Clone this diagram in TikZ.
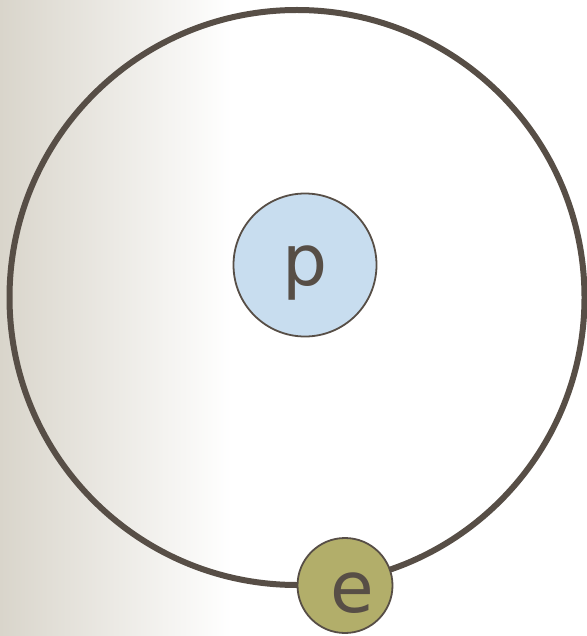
\documentclass[tikz,border=0pt]{standalone}
\usepackage{fontspec}
\setmainfont{DejaVu Sans}
\usepackage[dvipsnames, svgnames, x11names]{xcolor}
\definecolor{inkbrown}{HTML}{574E46}
\definecolor{protonblue}{HTML}{C8DDEF}
\definecolor{electronolive}{HTML}{B2AE6A}
\definecolor{sandgray}{HTML}{D9D5CB}
\usepackage{tikz}
\usetikzlibrary{positioning}

\begin{document}
\begin{tikzpicture}[x=1pt, y=-1pt]
    % page and left shading
    \useasboundingbox (0,0) rectangle (586,636);
    \shade[left color=sandgray, right color=white, shading angle=90] (0,0) rectangle (232,636);
    \fill[white] (232,0) rectangle (586,636);

    % orbit
    \node[circle, draw=inkbrown, line width=6pt, minimum size=575pt, inner sep=0pt] (orbit) at (297,297.5) {};

    % proton
    \node[circle, draw=inkbrown, line width=1.8pt, fill=protonblue, minimum size=143pt, inner sep=0pt] (proton) at (305,265) {};
    \node[font=\fontsize{71}{71}\selectfont, text=inkbrown, anchor=base, inner sep=0pt] (ptext) at (305,285) {p};

    % electron
    \node[circle, draw=inkbrown, line width=1.8pt, fill=electronolive, minimum size=95pt, inner sep=0pt] (electron) at (345,585.5) {};
    \node[font=\fontsize{71}{71}\selectfont, text=inkbrown, anchor=base, inner sep=0pt] (etext) at (352,612) {e};
\end{tikzpicture}
\end{document}
